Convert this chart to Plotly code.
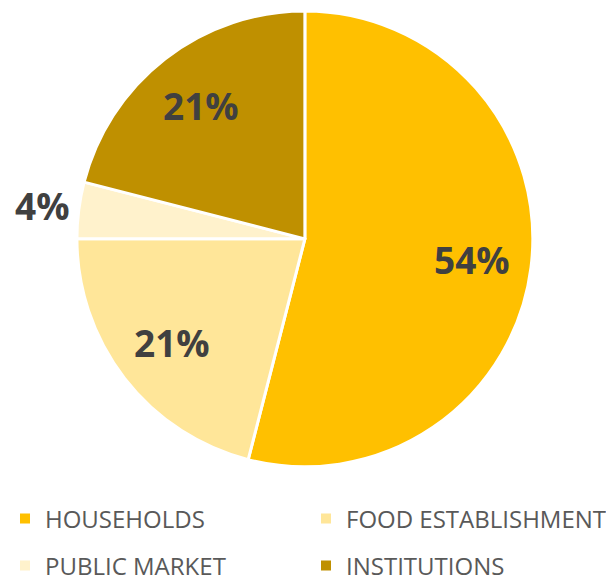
import math
import plotly.graph_objects as go

categories = ["HOUSEHOLDS", "FOOD ESTABLISHMENT", "PUBLIC MARKET", "INSTITUTIONS"]
shares = [54, 21, 4, 21]
colors = ["#FFC000", "#FFE699", "#FFF2CC", "#BF9000"]
label_outside = [False, False, True, False]
legend_ids = ["legend", "legend2", "legend3", "legend4"]

W, H = 614, 580
dom_x = [0.112, 0.855]
dom_y = [0.209, 0.995]

fig = go.Figure()
fig.add_trace(go.Pie(
    labels=categories,
    values=shares,
    sort=False,
    direction="clockwise",
    rotation=0,
    marker=dict(colors=colors, line=dict(color="white", width=3)),
    textinfo="none",
    showlegend=False,
    domain=dict(x=dom_x, y=dom_y),
))

# percentage labels placed at each slice's mid angle
cx = (dom_x[0] + dom_x[1]) / 2 * W
cy = (1 - (dom_y[0] + dom_y[1]) / 2) * H
r = min((dom_x[1] - dom_x[0]) * W, (dom_y[1] - dom_y[0]) * H) / 2
total = sum(shares)
cum = 0
for v, out in zip(shares, label_outside):
    mid = (cum + v / 2) / total * 2 * math.pi
    cum += v
    k = 1.16 if out else 0.74
    px = cx + k * r * math.sin(mid)
    py = cy - k * r * math.cos(mid)
    fig.add_annotation(
        x=px / W, y=1 - py / H, xref="paper", yref="paper",
        xanchor="center", yanchor="middle",
        text="<b>%d%%</b>" % round(v / total * 100), showarrow=False,
        font=dict(family="Open Sans", size=37, color="#404040"),
    )

# legend entries, one legend per entry so the 2x2 grid can be spaced freely
for name, col, lg in zip(categories, colors, legend_ids):
    fig.add_trace(go.Scatter(
        x=[None], y=[None], mode="markers", name=name, legend=lg,
        marker=dict(symbol="square", size=10, color=col),
    ))

leg_common = dict(
    orientation="h", xanchor="left", yanchor="middle",
    font=dict(family="Open Sans", size=24, color="#595959"),
    bgcolor="rgba(0,0,0,0)",
)
col_x = [-3 / W, 298 / W]
row_y = [1 - 511 / H, 1 - 558 / H]

fig.update_layout(
    width=W,
    height=H,
    margin=dict(l=0, r=0, t=0, b=0, autoexpand=False),
    paper_bgcolor="white",
    plot_bgcolor="white",
    xaxis=dict(visible=False),
    yaxis=dict(visible=False),
    legend=dict(x=col_x[0], y=row_y[0], **leg_common),
    legend2=dict(x=col_x[1], y=row_y[0], **leg_common),
    legend3=dict(x=col_x[0], y=row_y[1], **leg_common),
    legend4=dict(x=col_x[1], y=row_y[1], **leg_common),
)

fig.write_html("out.html")
